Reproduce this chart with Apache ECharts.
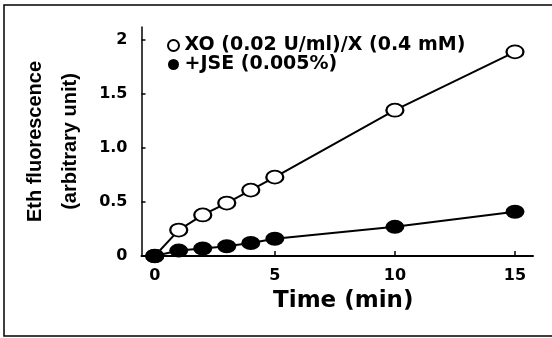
<!DOCTYPE html>
<html>
<head>
<meta charset="utf-8">
<script src="https://cdn.jsdelivr.net/npm/echarts@6/dist/echarts.min.js"></script>
<style>
html,body{margin:0;padding:0;background:#fff;}
#chart{width:552px;height:338px;}
</style>
</head>
<body>
<div id="chart"></div>
<script>
// ---- data ----
var timeMin = [0, 1, 2, 3, 4, 5, 10, 15];
var xoValues = [0, 0.24, 0.38, 0.49, 0.61, 0.73, 1.35, 1.89];
var jseValues = [0, 0.05, 0.07, 0.09, 0.12, 0.16, 0.27, 0.41];
var seriesNames = ['XO (0.02 U/ml)/X (0.4 mM)', '+JSE (0.005%)'];
var xTickVals = [0, 5, 10, 15];
var xTickLabels = ['0', '5', '10', '15'];
var yTickVals = [0, 0.5, 1, 1.5, 2];
var yTickLabels = ['0', '0.5', '1.0', '1.5', '2'];

function pairs(xs, ys) { return xs.map(function (x, i) { return [x, ys[i]]; }); }

var chart = echarts.init(document.getElementById('chart'), null, {renderer: 'canvas'});

chart.setOption({
  animation: false,
  backgroundColor: '#fff',
  graphic: [{
    type: 'rect',
    shape: {x: 4, y: 5, width: 600, height: 331},
    style: {fill: 'none', stroke: '#000', lineWidth: 1.5},
    silent: true
  }],
  grid: {left: 141.5, right: 19, top: 27, bottom: 82},
  legend: {
    orient: 'vertical',
    left: 162, top: 31,
    itemWidth: 12, itemHeight: 11, itemGap: 0,
    icon: 'circle',
    textStyle: {fontFamily: 'DejaVu Sans', fontWeight: 'bold', fontSize: 19, lineHeight: 14, color: '#000'},
    data: [
      {name: seriesNames[0], itemStyle: {color: '#fff', borderColor: '#000', borderWidth: 2}},
      {name: seriesNames[1], itemStyle: {color: '#000', borderColor: '#000', borderWidth: 0}}
    ]
  },
  xAxis: {
    type: 'value', min: -0.55, max: 15.75,
    name: 'Time (min)', nameLocation: 'middle', nameGap: 30,
    nameTextStyle: {fontFamily: 'DejaVu Sans', fontWeight: 'bold', fontSize: 23, lineHeight: 24, color: '#000', padding: [0,0,0,12]},
    axisLine: {onZero: false, lineStyle: {color: '#000', width: 2}},
    axisTick: {inside: true, length: 5, customValues: xTickVals, lineStyle: {color: '#000', width: 1.5}},
    axisLabel: {margin: 12, customValues: xTickVals,
      fontFamily: 'DejaVu Sans', fontWeight: 'bold', fontSize: 16, color: '#000',
      formatter: function (v) { var i = xTickVals.indexOf(v); return i < 0 ? '' : xTickLabels[i]; }},
    splitLine: {show: false}
  },
  yAxis: {
    type: 'value', min: 0, max: 2.12,
    name: 'Eth fluorescence\n(arbitrary unit)', nameLocation: 'middle', nameRotate: 90, nameGap: 54,
    nameTextStyle: {fontFamily: 'Liberation Sans', fontWeight: 'bold', fontSize: 20, lineHeight: 35, color: '#000'},
    axisLine: {show: true, onZero: false, lineStyle: {color: '#000', width: 1.5}},
    axisTick: {inside: true, length: 4, customValues: yTickVals, lineStyle: {color: '#000', width: 1.5}},
    axisLabel: {margin: 14, customValues: yTickVals,
      fontFamily: 'DejaVu Sans', fontWeight: 'bold', fontSize: 16, color: '#000',
      formatter: function (v) { var i = yTickVals.indexOf(v); return i < 0 ? '' : yTickLabels[i]; }},
    splitLine: {show: false}
  },
  series: [
    {
      name: seriesNames[0], type: 'line', data: pairs(timeMin, xoValues),
      symbol: 'circle', symbolSize: [17, 13], showAllSymbol: true,
      lineStyle: {color: '#000', width: 2},
      itemStyle: {color: '#fff', borderColor: '#000', borderWidth: 2}
    },
    {
      name: seriesNames[1], type: 'line', data: pairs(timeMin, jseValues),
      symbol: 'circle', symbolSize: [19, 14], showAllSymbol: true,
      lineStyle: {color: '#000', width: 2},
      itemStyle: {color: '#000', borderColor: '#000', borderWidth: 0}
    }
  ]
});
</script>
</body>
</html>
